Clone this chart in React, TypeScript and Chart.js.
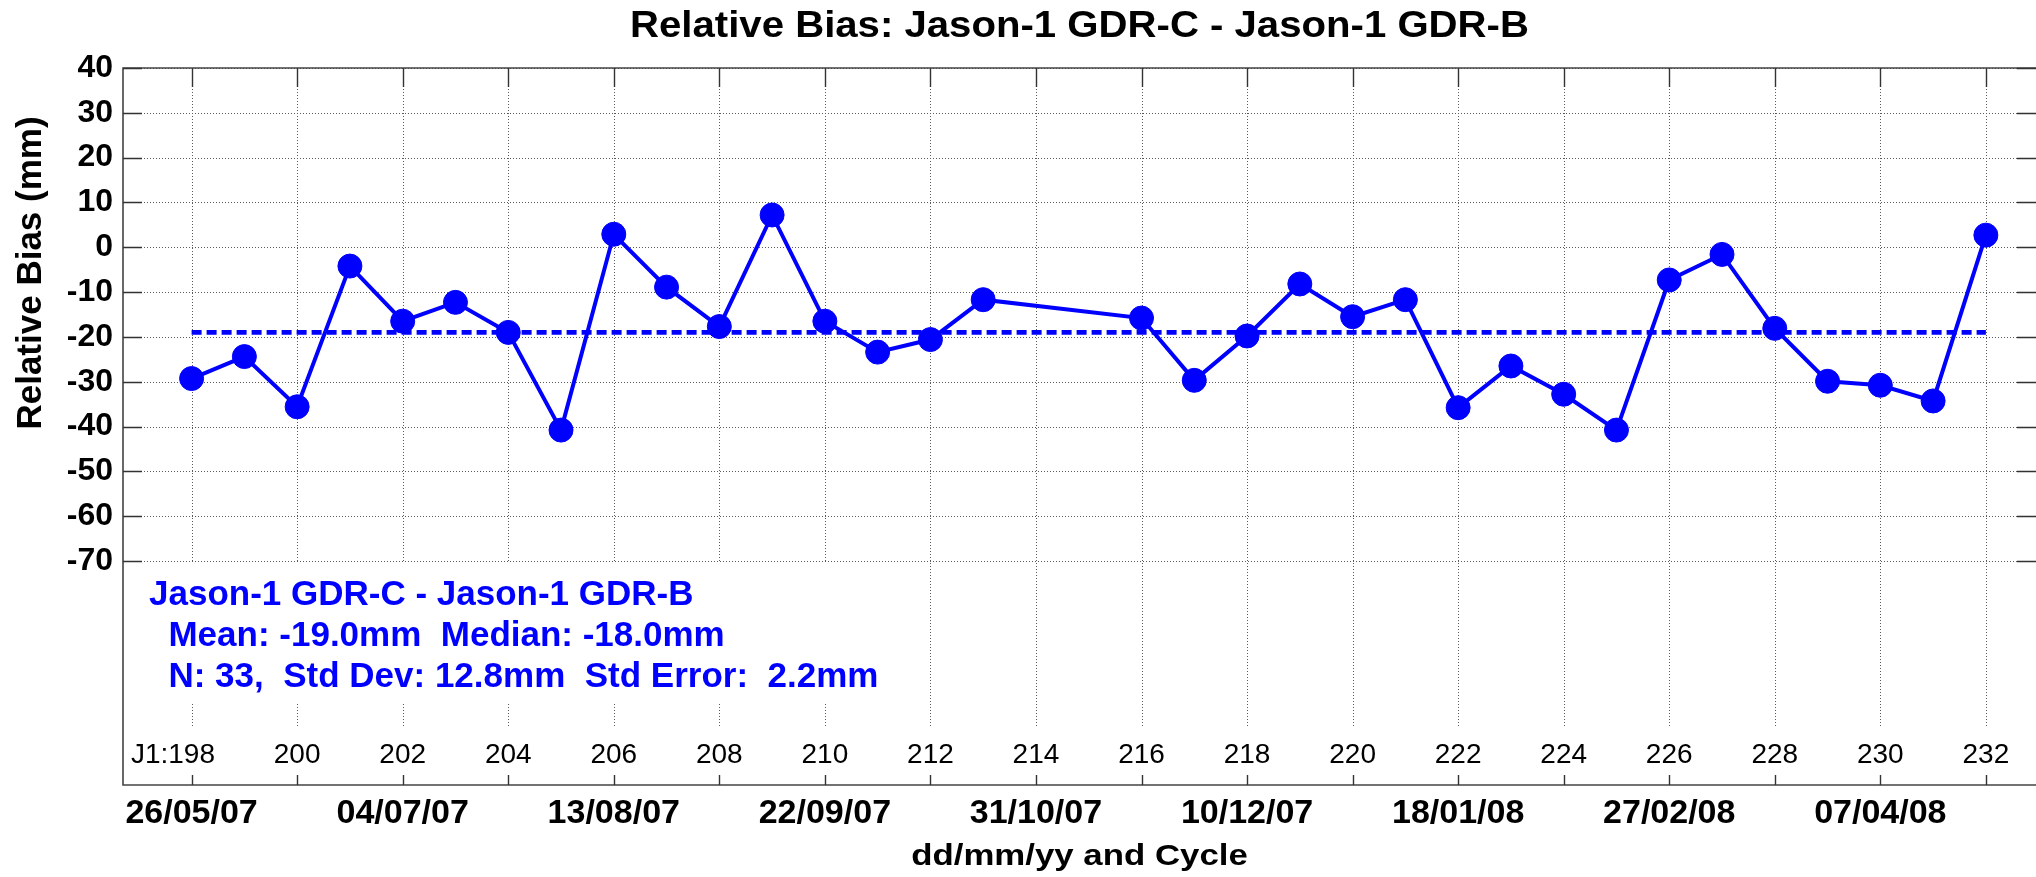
import React, { useEffect, useRef } from 'react';
import { Chart, registerables } from 'chart.js';

Chart.register(...registerables);

// ---------------- data ----------------
const CYCLES = [
  198, 199, 200, 201, 202, 203, 204, 205, 206, 207, 208, 209, 210, 211, 212, 213,
  216, 217, 218, 219, 220, 221, 222, 223, 224, 225, 226, 227, 228, 229, 230, 231, 232,
];
const BIAS = [
  -29.3, -24.4, -35.6, -4.2, -16.5, -12.3, -19.0, -40.8,
  2.9, -8.9, -17.7, 7.2, -16.5, -23.4, -20.6, -11.7,
  -15.8, -29.7, -19.8, -8.2, -15.5, -11.7, -35.8, -26.5,
  -32.8, -40.8, -7.3, -1.6, -18.1, -29.9, -30.8, -34.3, 2.7,
];
const MEAN_BIAS = -19.0;
const MEAN_SPAN = [198, 232];

const Y_TICKS = [40, 30, 20, 10, 0, -10, -20, -30, -40, -50, -60, -70];
const CYCLE_TICKS = [198, 200, 202, 204, 206, 208, 210, 212, 214, 216, 218, 220, 222, 224, 226, 228, 230, 232];
const DATE_TICK_CYCLES = [198, 202, 206, 210, 214, 218, 222, 226, 230];
const DATE_LABELS = ['26/05/07', '04/07/07', '13/08/07', '22/09/07', '31/10/07', '10/12/07', '18/01/08', '27/02/08', '07/04/08'];
const CYCLE_PREFIX = 'J1:';

const X_MIN = 196.7;
const X_MAX = 232.95;
const Y_MIN = -120;
const Y_MAX = 40;

const TITLE = 'Relative Bias: Jason-1 GDR-C - Jason-1 GDR-B';
const Y_TITLE = 'Relative Bias (mm)';
const X_TITLE = 'dd/mm/yy and Cycle';
const STATS_LINES = [
  'Jason-1 GDR-C - Jason-1 GDR-B',
  '  Mean: -19.0mm  Median: -18.0mm',
  '  N: 33,  Std Dev: 12.8mm  Std Error:  2.2mm',
];

// ---------------- styling ----------------
const FONT = '"Liberation Sans", Arial, Helvetica, sans-serif';
const BLUE = '#0000ff';
const GRID = '#5a5a5a';
const AXIS = '#444444';

function stretchedText(ctx: CanvasRenderingContext2D, text: string, x: number, y: number, sx: number) {
  ctx.save();
  ctx.translate(x, y);
  ctx.scale(sx, 1);
  ctx.fillText(text, 0, 0);
  ctx.restore();
}

const decorPlugin = {
  id: 'decor',
  beforeDatasetsDraw(chart: any) {
    const { ctx, chartArea: a, scales } = chart;
    const xs = scales.x;
    const ys = scales.y;
    ctx.save();

    // dotted grid
    ctx.strokeStyle = GRID;
    ctx.lineWidth = 1;
    ctx.setLineDash([1, 2]);
    for (const v of Y_TICKS) {
      const py = Math.round(ys.getPixelForValue(v)) + 0.5;
      ctx.beginPath();
      ctx.moveTo(a.left, py);
      ctx.lineTo(a.right, py);
      ctx.stroke();
    }
    const gridBottom = a.bottom - 57;
    for (const c of CYCLE_TICKS) {
      const px = Math.round(xs.getPixelForValue(c)) + 0.5;
      ctx.beginPath();
      ctx.moveTo(px, a.top);
      ctx.lineTo(px, gridBottom);
      ctx.stroke();
    }
    ctx.setLineDash([]);

    // white background behind stats text
    const boxTop = ys.getPixelForValue(Y_TICKS[Y_TICKS.length - 1]) + 2;
    ctx.fillStyle = '#ffffff';
    ctx.fillRect(a.left + 18, boxTop, 740, 141);

    // axes box (right edge falls at the canvas border)
    ctx.strokeStyle = AXIS;
    ctx.lineWidth = 1.6;
    ctx.beginPath();
    ctx.moveTo(a.right, a.bottom);
    ctx.lineTo(a.left, a.bottom);
    ctx.lineTo(a.left, a.top);
    ctx.lineTo(a.right, a.top);
    ctx.stroke();

    // inward ticks
    ctx.lineWidth = 1.4;
    ctx.strokeStyle = '#333333';
    for (const v of Y_TICKS) {
      const py = Math.round(ys.getPixelForValue(v)) + 0.5;
      ctx.beginPath();
      ctx.moveTo(a.left, py);
      ctx.lineTo(a.left + 19, py);
      ctx.moveTo(a.right - 19, py);
      ctx.lineTo(a.right, py);
      ctx.stroke();
    }
    for (const c of CYCLE_TICKS) {
      const px = Math.round(xs.getPixelForValue(c)) + 0.5;
      ctx.beginPath();
      ctx.moveTo(px, a.top);
      ctx.lineTo(px, a.top + 19);
      ctx.moveTo(px, a.bottom - 10);
      ctx.lineTo(px, a.bottom);
      ctx.stroke();
    }

    // cycle labels inside the plot
    ctx.fillStyle = '#000000';
    ctx.font = `28px ${FONT}`;
    ctx.textBaseline = 'alphabetic';
    const labelY = a.bottom - 22.5;
    CYCLE_TICKS.forEach((c, i) => {
      const px = xs.getPixelForValue(c);
      const num = String(c);
      if (i === 0) {
        const w = ctx.measureText(num).width;
        ctx.textAlign = 'right';
        ctx.fillText(CYCLE_PREFIX + num, px + w / 2, labelY);
      } else {
        ctx.textAlign = 'center';
        ctx.fillText(num, px, labelY);
      }
    });

    // stats text
    ctx.fillStyle = BLUE;
    ctx.font = `bold 35px ${FONT}`;
    ctx.textAlign = 'left';
    const statsX = a.left + 26;
    const statsY0 = boxTop + 42;
    STATS_LINES.forEach((t, i) => {
      ctx.fillText(t, statsX, statsY0 + i * 41);
    });

    ctx.restore();
  },
  afterDraw(chart: any) {
    const { ctx, chartArea: a } = chart;
    ctx.save();
    ctx.fillStyle = '#000000';
    ctx.textAlign = 'center';
    ctx.textBaseline = 'alphabetic';
    const cx = (a.left + a.right) / 2;

    ctx.font = `bold 36px ${FONT}`;
    stretchedText(ctx, TITLE, cx, 37, 1.115);

    ctx.font = `bold 30px ${FONT}`;
    stretchedText(ctx, X_TITLE, cx, 865, 1.16);

    ctx.font = `bold 35px ${FONT}`;
    ctx.textBaseline = 'middle';
    ctx.translate(31, 273);
    ctx.rotate(-Math.PI / 2);
    ctx.fillText(Y_TITLE, 0, 0);
    ctx.restore();
  },
};

export default function App() {
  const ref = useRef<HTMLCanvasElement>(null);

  useEffect(() => {
    document.body.style.margin = '0';
    document.body.style.overflow = 'hidden';
    const canvas = ref.current;
    if (!canvas) return;

    const points = CYCLES.map((c, i) => ({ x: c, y: BIAS[i] }));
    const meanLine = MEAN_SPAN.map((c) => ({ x: c, y: MEAN_BIAS }));

    const chart = new Chart(canvas, {
      type: 'line',
      data: {
        datasets: [
          {
            label: 'Relative bias',
            data: points,
            borderColor: BLUE,
            backgroundColor: BLUE,
            borderWidth: 4,
            pointRadius: 12,
            pointHoverRadius: 12,
            pointBorderWidth: 1,
            pointBackgroundColor: BLUE,
            pointBorderColor: BLUE,
            tension: 0,
            fill: false,
          },
          {
            label: 'Mean',
            data: meanLine,
            borderColor: BLUE,
            borderWidth: 4.7,
            borderDash: [10, 5],
            borderCapStyle: 'butt',
            pointRadius: 0,
            pointHoverRadius: 0,
            tension: 0,
            fill: false,
          },
        ],
      },
      options: {
        animation: false,
        responsive: false,
        maintainAspectRatio: false,
        events: [],
        layout: { autoPadding: false, padding: { top: 68, left: 0, right: 0, bottom: 0 } },
        plugins: {
          legend: { display: false },
          title: { display: false },
          tooltip: { enabled: false },
        },
        scales: {
          x: {
            type: 'linear',
            position: 'bottom',
            min: X_MIN,
            max: X_MAX,
            afterBuildTicks: (s: any) => {
              s.ticks = CYCLE_TICKS.map((v) => ({ value: v }));
            },
            afterFit: (s: any) => {
              s.height = 92;
              s.paddingLeft = 0;
              s.paddingRight = 0;
            },
            grid: { display: false, drawTicks: false },
            border: { display: false },
            ticks: {
              autoSkip: false,
              maxRotation: 0,
              minRotation: 0,
              padding: 8,
              color: '#000000',
              font: { family: FONT, size: 34, weight: 'bold' },
              callback: (v: any) => {
                const i = DATE_TICK_CYCLES.indexOf(Number(v));
                return i >= 0 ? DATE_LABELS[i] : '';
              },
            },
          },
          y: {
            type: 'linear',
            position: 'left',
            min: Y_MIN,
            max: Y_MAX,
            afterBuildTicks: (s: any) => {
              s.ticks = Y_TICKS.map((v) => ({ value: v }));
            },
            afterFit: (s: any) => {
              s.width = 123;
              s.paddingTop = 0;
              s.paddingBottom = 0;
            },
            grid: { display: false, drawTicks: false },
            border: { display: false },
            ticks: {
              padding: 10,
              color: '#000000',
              font: { family: FONT, size: 32, weight: 'bold' },
              callback: (v: any) => String(v),
            },
          },
        },
      },
      plugins: [decorPlugin],
    } as any);

    return () => chart.destroy();
  }, []);

  return (
    <div style={{ width: 2036, height: 877, background: '#ffffff' }}>
      <canvas ref={ref} width={2036} height={877} style={{ display: 'block', width: 2036, height: 877 }} />
    </div>
  );
}
